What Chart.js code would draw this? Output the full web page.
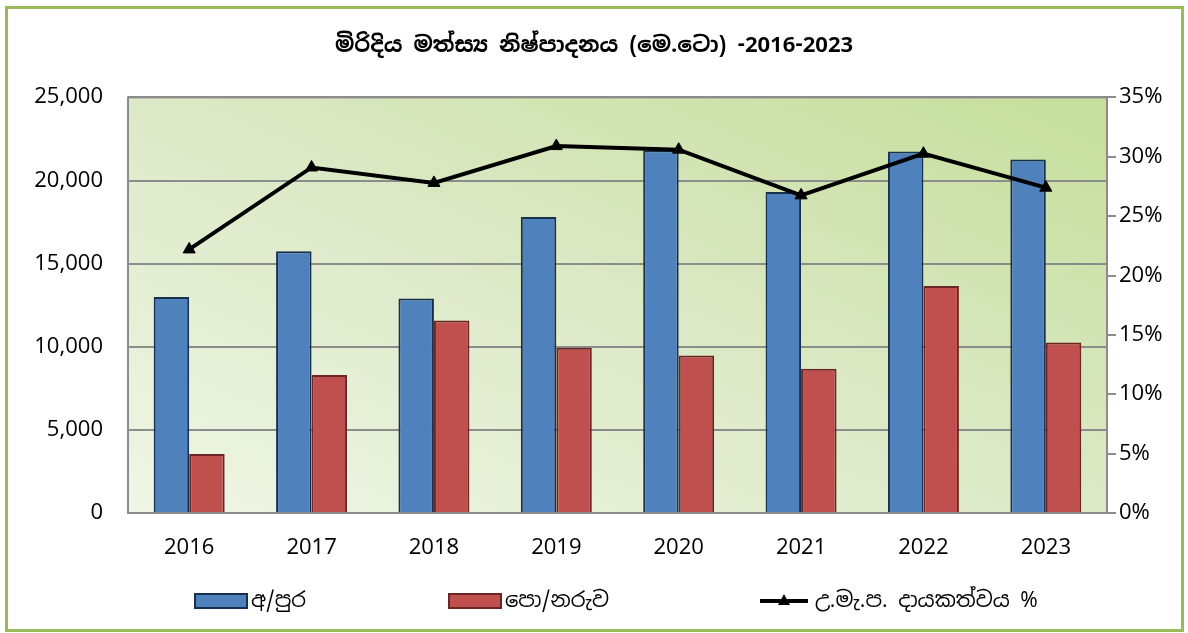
<!DOCTYPE html>
<html>
<head>
<meta charset="utf-8">
<script src="https://cdn.jsdelivr.net/npm/chart.js@4"></script>
<style>
  html, body { margin: 0; padding: 0; background: #fff; }
  #wrap { position: relative; width: 1188px; height: 633px; }
  #frame {
    position: absolute; left: 5px; top: 6px; width: 1173px; height: 620px;
    border: 3px solid #9bbb59; pointer-events: none;
  }
  canvas { position: absolute; left: 0; top: 0; }
</style>
</head>
<body>
<div id="wrap">
  <canvas id="chart" width="1188" height="633"></canvas>
  <div id="frame"></div>
</div>
<script>
const years = ["2016", "2017", "2018", "2019", "2020", "2021", "2022", "2023"];
const anuradhapura = [13000, 15750, 12900, 17800, 21820, 19310, 21740, 21270];
const polonnaruwa = [3550, 8300, 11580, 9940, 9480, 8670, 13660, 10260];
const shareOfTotal = [22.2, 29.1, 27.8, 30.9, 30.6, 26.75, 30.26, 27.4];

const titleText = "මිරිදිය මත්ස්‍ය නිෂ්පාදනය (මෙ.ටො) -2016-2023";
const labelA = "අ/පුර";
const labelB = "පො/නරුව";
const labelC = "උ.මැ.ප. දායකත්වය %";

const FONT = "'Noto Sans Sinhala', 'Iskoola Pota', Lato, 'Noto Sans', sans-serif";

// plot background: diagonal gradient, light bottom-left -> green top-right
const plotBg = {
  id: "plotBg",
  beforeDraw(chart) {
    const { ctx, chartArea: a } = chart;
    const w = a.right - a.left, h = a.bottom - a.top;
    const cx = a.left + w / 2, cy = a.top + h / 2;
    const k = (w * h) / (w * w + h * h);
    const g = ctx.createLinearGradient(cx - k * h, cy + k * w, cx + k * h, cy - k * w);
    g.addColorStop(0, "#eff6e6");
    g.addColorStop(0.5, "#dce9c6");
    g.addColorStop(1, "#c5de9b");
    ctx.save();
    ctx.fillStyle = g;
    ctx.fillRect(a.left, a.top, w, h);
    ctx.restore();
  },
  afterDatasetsDraw(chart) {
    const { ctx, chartArea: a } = chart;
    ctx.save();
    ctx.strokeStyle = "#8c8c8c";
    ctx.lineWidth = 2;
    ctx.strokeRect(a.left, a.top, a.right - a.left, a.bottom - a.top);
    ctx.restore();
  }
};

// legend laid out like the original
const bottomLegend = {
  id: "bottomLegend",
  afterDraw(chart) {
    const { ctx } = chart;
    const ds = chart.data.datasets;
    const y = 601;
    ctx.save();
    ctx.font = "21px " + FONT;
    ctx.textBaseline = "middle";
    const boxes = [[195, ds[0]], [449, ds[1]]];
    for (const [x, d] of boxes) {
      ctx.fillStyle = d.backgroundColor;
      ctx.strokeStyle = d.borderColor;
      ctx.lineWidth = 2;
      ctx.fillRect(x, y - 7, 52, 14);
      ctx.strokeRect(x, y - 7, 52, 14);
      ctx.fillStyle = "#000";
      ctx.fillText(d.label, x + 56, y);
    }
    const l = ds[2];
    ctx.strokeStyle = l.borderColor;
    ctx.lineWidth = 4;
    ctx.beginPath();
    ctx.moveTo(760, y);
    ctx.lineTo(808, y);
    ctx.stroke();
    ctx.fillStyle = l.borderColor;
    ctx.beginPath();
    ctx.moveTo(784, y - 7);
    ctx.lineTo(790, y + 4);
    ctx.lineTo(778, y + 4);
    ctx.closePath();
    ctx.fill();
    ctx.fillStyle = "#000";
    ctx.fillText(l.label, 815, y);
    ctx.restore();
  }
};

new Chart(document.getElementById("chart"), {
  type: "bar",
  data: {
    labels: years,
    datasets: [
      {
        label: labelA,
        data: anuradhapura,
        backgroundColor: "#4f81bd",
        borderColor: "#17304d",
        borderWidth: 2,
        yAxisID: "y",
        order: 2
      },
      {
        label: labelB,
        data: polonnaruwa,
        backgroundColor: "#c0504d",
        borderColor: "#6b2524",
        borderWidth: 2,
        yAxisID: "y",
        order: 2
      },
      {
        type: "line",
        label: labelC,
        data: shareOfTotal,
        borderColor: "#000",
        backgroundColor: "#000",
        borderWidth: 4,
        pointStyle: "triangle",
        pointRadius: 7,
        pointBorderWidth: 1,
        tension: 0,
        yAxisID: "y1",
        order: 1
      }
    ]
  },
  options: {
    responsive: false,
    animation: false,
    layout: { padding: 0 },
    datasets: { bar: { barPercentage: 1, categoryPercentage: 0.58 } },
    plugins: {
      legend: { display: false },
      tooltip: { enabled: false },
      title: {
        display: true,
        text: titleText,
        color: "#000",
        font: { family: FONT, size: 22, weight: "bold" },
        padding: { top: 33, bottom: 38 }
      }
    },
    scales: {
      x: {
        grid: { display: false, drawTicks: false },
        border: { display: false },
        ticks: { color: "#000", padding: 22, font: { family: FONT, size: 22 } },
        afterFit(s) { s.height = 120; }
      },
      y: {
        position: "left",
        min: 0,
        max: 25000,
        grid: { color: "#8c8c8c", lineWidth: 2, drawTicks: false },
        border: { display: false },
        ticks: {
          stepSize: 5000,
          color: "#000",
          padding: 25,
          font: { family: FONT, size: 22 },
          callback: v => v.toLocaleString("en-US")
        },
        afterFit(s) { s.width = 128; }
      },
      y1: {
        position: "right",
        min: 0,
        max: 35,
        grid: { drawOnChartArea: false, color: "#8c8c8c", lineWidth: 2, tickLength: 9 },
        border: { display: false },
        ticks: {
          stepSize: 5,
          color: "#000",
          padding: 3,
          font: { family: FONT, size: 22 },
          callback: v => v + "%"
        },
        afterFit(s) { s.width = 81; }
      }
    }
  },
  plugins: [plotBg, bottomLegend]
});
</script>
</body>
</html>
